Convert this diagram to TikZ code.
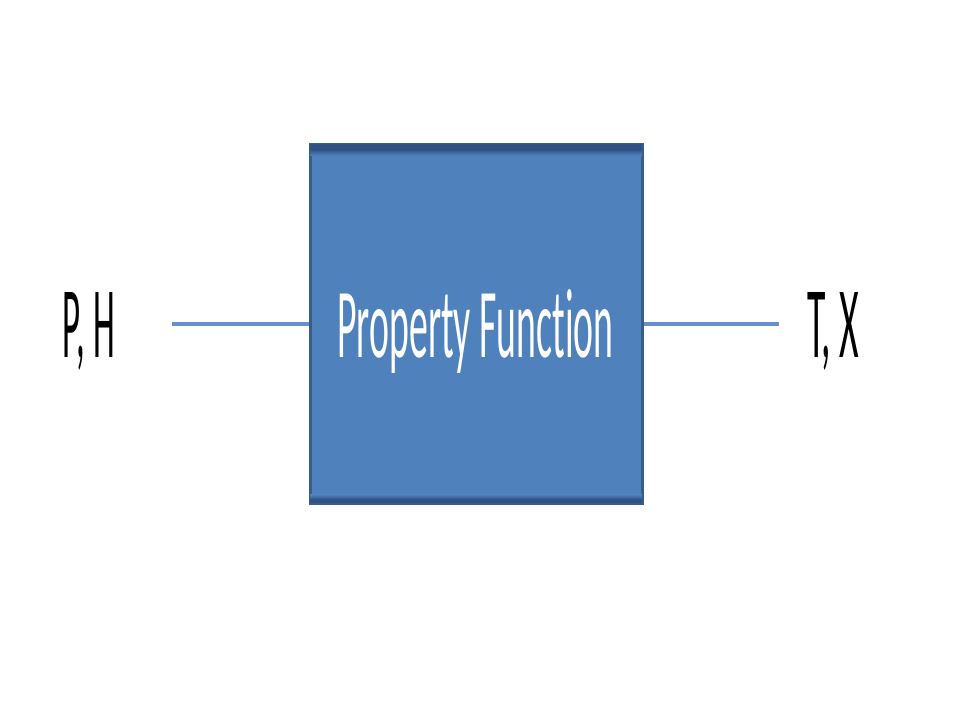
\documentclass[tikz,border=0pt]{standalone}
\usepackage{fontspec}
\setmainfont{Carlito}[Ligatures=NoCommon]
\definecolor{boxfill}{HTML}{4F81BD}
\definecolor{boxedge}{HTML}{385D8A}
\definecolor{banddark}{HTML}{2F5183}
\definecolor{linkcol}{HTML}{6690CC}
\begin{document}
\begin{tikzpicture}[x=1pt,y=-1pt,
  linkline/.style={draw=linkcol,line width=3.5pt},
  sidelabel/.style={inner sep=0pt,anchor=base,text=black},
  boxlabel/.style={inner sep=0pt,anchor=base,text=white}]
\useasboundingbox[fill=white] (0,0) rectangle (960,720);
% box
\node[inner sep=0pt,minimum width=332pt,minimum height=359pt,fill=boxfill,draw=boxedge,line width=3pt] (pf) at (476,323.5) {};
\fill[banddark] ([xshift=1.5pt,yshift=-1.5pt]pf.north west) rectangle ([xshift=-1.5pt,yshift=-7pt]pf.north east);
\fill[top color=banddark,bottom color=boxfill] ([xshift=1.5pt,yshift=-7pt]pf.north west) rectangle ([xshift=-1.5pt,yshift=-13pt]pf.north east);
\fill[top color=boxfill,bottom color=banddark] ([xshift=1.5pt,yshift=10pt]pf.south west) rectangle ([xshift=-1.5pt,yshift=5pt]pf.south east);
\fill[banddark] ([xshift=1.5pt,yshift=5pt]pf.south west) rectangle ([xshift=-1.5pt,yshift=1.5pt]pf.south east);
\node[boxlabel] (pft) at (475.5,357) {\resizebox{276pt}{68pt}{Property Function}};
% inputs / outputs
\node[sidelabel] (ph) at (89,357) {\resizebox{52pt}{65pt}{P, H}};
\node[sidelabel] (tx) at (833,357) {\resizebox{52pt}{65pt}{T, X}};
\coordinate (lin) at (172,324);
\coordinate (rout) at (779,324);
\draw[linkline] (lin) -- (pf.west |- lin);
\draw[linkline] (pf.east |- rout) -- (rout);
\end{tikzpicture}
\end{document}
